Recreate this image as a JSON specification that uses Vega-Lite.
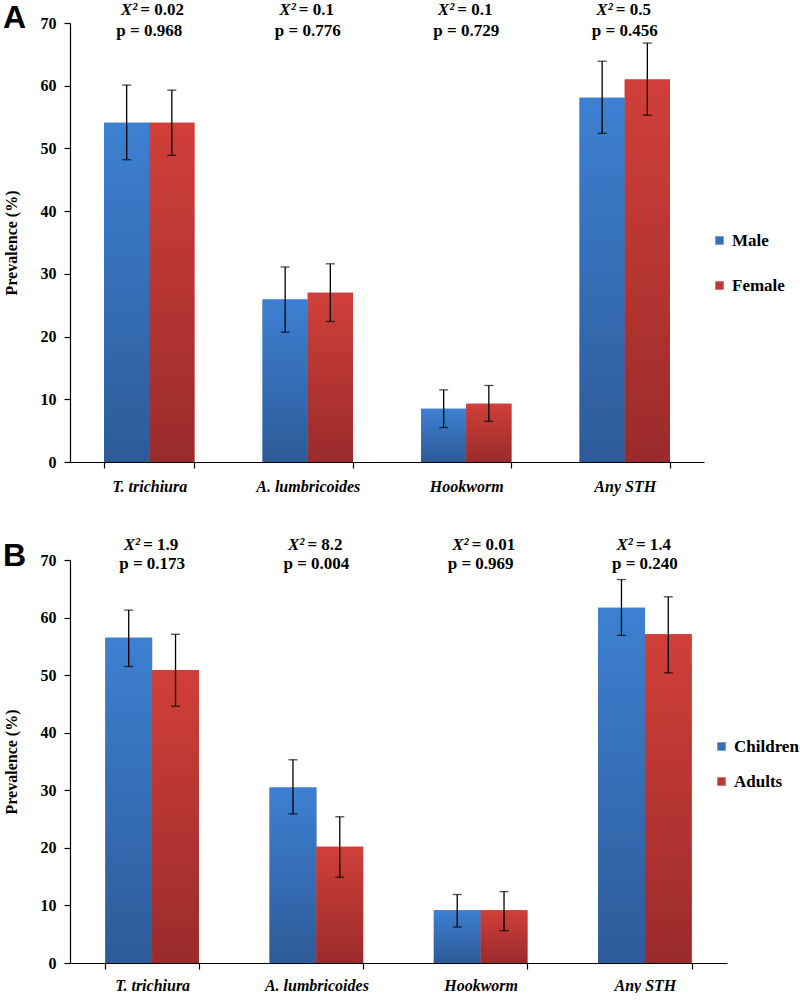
{
  "$schema": "https://vega.github.io/schema/vega-lite/v6.json",
  "background": "white",
  "padding": {"left": 3, "top": 0, "right": 0, "bottom": 0},
  "spacing": 42,
  "config": {
    "view": {"stroke": null},
    "font": "Liberation Serif",
    "axis": {
      "domainColor": "black", "domainWidth": 1.2, "tickColor": "black", "tickWidth": 1.2,
      "labelColor": "black", "labelFont": "Liberation Serif", "labelFontWeight": "bold", "labelFontSize": 16,
      "titleColor": "black", "titleFont": "Liberation Serif", "titleFontWeight": "bold", "titleFontSize": 16,
      "grid": false
    },
    "title": {"font": "Liberation Sans", "fontSize": 32, "fontWeight": "bold", "color": "black", "anchor": "start", "frame": "bounds"}
  },
  "resolve": {"scale": {"color": "independent", "xOffset": "independent", "y": "independent", "x": "independent"}, "legend": {"color": "independent"}},
  "datasets": {
    "a": [
      {"cat": "T. trichiura", "series": "Male", "value": 54.1, "lo": 48.2, "hi": 60.1},
      {"cat": "T. trichiura", "series": "Female", "value": 54.1, "lo": 48.9, "hi": 59.3},
      {"cat": "A. lumbricoides", "series": "Male", "value": 25.9, "lo": 20.7, "hi": 31.1},
      {"cat": "A. lumbricoides", "series": "Female", "value": 27.0, "lo": 22.4, "hi": 31.6},
      {"cat": "Hookworm", "series": "Male", "value": 8.5, "lo": 5.5, "hi": 11.5},
      {"cat": "Hookworm", "series": "Female", "value": 9.3, "lo": 6.5, "hi": 12.2},
      {"cat": "Any STH", "series": "Male", "value": 58.1, "lo": 52.4, "hi": 63.9},
      {"cat": "Any STH", "series": "Female", "value": 61.0, "lo": 55.3, "hi": 66.8}
    ],
    "b": [
      {"cat": "T. trichiura", "series": "Children", "value": 56.5, "lo": 51.5, "hi": 61.3},
      {"cat": "T. trichiura", "series": "Adults", "value": 50.9, "lo": 44.6, "hi": 57.1},
      {"cat": "A. lumbricoides", "series": "Children", "value": 30.5, "lo": 25.9, "hi": 35.3},
      {"cat": "A. lumbricoides", "series": "Adults", "value": 20.2, "lo": 14.9, "hi": 25.4},
      {"cat": "Hookworm", "series": "Children", "value": 9.15, "lo": 6.25, "hi": 11.9},
      {"cat": "Hookworm", "series": "Adults", "value": 9.15, "lo": 5.6, "hi": 12.4},
      {"cat": "Any STH", "series": "Children", "value": 61.7, "lo": 56.9, "hi": 66.6},
      {"cat": "Any STH", "series": "Adults", "value": 57.1, "lo": 50.4, "hi": 63.6}
    ],
    "ta": [
      {"cat": "T. trichiura", "x2sym": "X²", "chi": "= 0.02", "p": "p = 0.968"},
      {"cat": "A. lumbricoides", "x2sym": "X²", "chi": "= 0.1", "p": "p = 0.776"},
      {"cat": "Hookworm", "x2sym": "X²", "chi": "= 0.1", "p": "p = 0.729"},
      {"cat": "Any STH", "x2sym": "X²", "chi": "= 0.5", "p": "p = 0.456"}
    ],
    "tb": [
      {"cat": "T. trichiura", "x2sym": "X²", "chi": "= 1.9", "p": "p = 0.173"},
      {"cat": "A. lumbricoides", "x2sym": "X²", "chi": "= 8.2", "p": "p = 0.004"},
      {"cat": "Hookworm", "x2sym": "X²", "chi": "= 0.01", "p": "p = 0.969"},
      {"cat": "Any STH", "x2sym": "X²", "chi": "= 1.4", "p": "p = 0.240"}
    ]
  },
  "vconcat": [
    {
      "width": 634, "height": 439,
      "title": {"text": "A", "offset": -34},
      "encoding": {
        "x": {"field": "cat", "type": "nominal", "title": null,
          "scale": {"domain": ["T. trichiura", "A. lumbricoides", "Hookworm", "Any STH"], "paddingInner": 0.43, "paddingOuter": 0.215},
          "axis": {"labelAngle": 0, "labelFontStyle": "italic", "tickBand": "extent", "labelPadding": 10, "tickSize": 6}}
      },
      "layer": [
        {
          "data": {"name": "a"},
          "mark": {"type": "bar"},
          "encoding": {
            "xOffset": {"field": "series", "type": "nominal", "scale": {"domain": ["Male", "Female"]}},
            "y": {"field": "value", "type": "quantitative", "title": "Prevalence (%)",
              "scale": {"domain": [0, 70], "nice": false},
              "axis": {"values": [0, 10, 20, 30, 40, 50, 60, 70], "tickSize": 6, "labelPadding": 8, "titlePadding": 21}},
            "color": {"field": "series", "type": "nominal",
              "scale": {"domain": ["Male", "Female"], "range": ["#3670b8", "#bf3734"]},
              "legend": {"orient": "none", "legendX": 641, "legendY": 209, "title": null, "symbolType": "square", "symbolSize": 70,
                "labelFont": "Liberation Serif", "labelFontWeight": "bold", "labelFontSize": 17, "labelColor": "black", "rowPadding": 27, "symbolStrokeWidth": 0}}
          }
        },
        {
          "data": {"name": "a"},
          "transform": [{"filter": "datum.series === 'Male'"}],
          "mark": {"type": "bar", "color": {"gradient": "linear", "x1": 0, "y1": 0, "x2": 0, "y2": 1, "stops": [{"offset": 0, "color": "#3d80d2"}, {"offset": 1, "color": "#2d5b98"}]}},
          "encoding": {
            "xOffset": {"field": "series", "type": "nominal", "scale": {"domain": ["Male", "Female"]}},
            "y": {"field": "value", "type": "quantitative"}
          }
        },
        {
          "data": {"name": "a"},
          "transform": [{"filter": "datum.series === 'Female'"}],
          "mark": {"type": "bar", "color": {"gradient": "linear", "x1": 0, "y1": 0, "x2": 0, "y2": 1, "stops": [{"offset": 0, "color": "#d13f3a"}, {"offset": 1, "color": "#9a2b2b"}]}},
          "encoding": {
            "xOffset": {"field": "series", "type": "nominal", "scale": {"domain": ["Male", "Female"]}},
            "y": {"field": "value", "type": "quantitative"}
          }
        },
        {
          "data": {"name": "a"},
          "mark": {"type": "rule", "color": "black", "strokeWidth": 1.3},
          "encoding": {
            "xOffset": {"field": "series", "type": "nominal", "scale": {"domain": ["Male", "Female"]}},
            "y": {"field": "lo", "type": "quantitative"},
            "y2": {"field": "hi"}
          }
        },
        {
          "data": {"name": "a"},
          "mark": {"type": "tick", "color": "black", "size": 9, "thickness": 1.3, "orient": "horizontal"},
          "encoding": {
            "xOffset": {"field": "series", "type": "nominal", "scale": {"domain": ["Male", "Female"]}},
            "y": {"field": "lo", "type": "quantitative"}
          }
        },
        {
          "data": {"name": "a"},
          "mark": {"type": "tick", "color": "black", "size": 9, "thickness": 1.3, "orient": "horizontal"},
          "encoding": {
            "xOffset": {"field": "series", "type": "nominal", "scale": {"domain": ["Male", "Female"]}},
            "y": {"field": "hi", "type": "quantitative"}
          }
        },
        {
          "data": {"name": "ta"},
          "mark": {"type": "text", "font": "Liberation Serif", "fontWeight": "bold", "fontStyle": "italic", "fontSize": 17, "baseline": "middle", "align": "right", "dx": -12, "color": "black"},
          "encoding": {"y": {"datum": 72.1}, "text": {"field": "x2sym"}}
        },
        {
          "data": {"name": "ta"},
          "mark": {"type": "text", "font": "Liberation Serif", "fontWeight": "bold", "fontSize": 17, "baseline": "middle", "align": "left", "dx": -9, "color": "black"},
          "encoding": {"y": {"datum": 72.1}, "text": {"field": "chi"}}
        },
        {
          "data": {"name": "ta"},
          "mark": {"type": "text", "font": "Liberation Serif", "fontWeight": "bold", "fontSize": 17, "baseline": "middle", "color": "black"},
          "encoding": {"y": {"datum": 68.7}, "text": {"field": "p"}}
        }
      ]
    },
    {
      "width": 657, "height": 403,
      "title": {"text": "B", "offset": -37},
      "encoding": {
        "x": {"field": "cat", "type": "nominal", "title": null,
          "scale": {"domain": ["T. trichiura", "A. lumbricoides", "Hookworm", "Any STH"], "paddingInner": 0.43, "paddingOuter": 0.215},
          "axis": {"labelAngle": 0, "labelFontStyle": "italic", "tickBand": "extent", "labelPadding": 8, "tickSize": 6}}
      },
      "layer": [
        {
          "data": {"name": "b"},
          "mark": {"type": "bar"},
          "encoding": {
            "xOffset": {"field": "series", "type": "nominal", "scale": {"domain": ["Children", "Adults"]}},
            "y": {"field": "value", "type": "quantitative", "title": "Prevalence (%)",
              "scale": {"domain": [0, 70], "nice": false},
              "axis": {"values": [0, 10, 20, 30, 40, 50, 60, 70], "tickSize": 6, "labelPadding": 8, "titlePadding": 21}},
            "color": {"field": "series", "type": "nominal",
              "scale": {"domain": ["Children", "Adults"], "range": ["#3670b8", "#bf3734"]},
              "legend": {"orient": "none", "legendX": 643, "legendY": 178, "title": null, "symbolType": "square", "symbolSize": 70,
                "labelFont": "Liberation Serif", "labelFontWeight": "bold", "labelFontSize": 17, "labelColor": "black", "rowPadding": 17, "symbolStrokeWidth": 0}}
          }
        },
        {
          "data": {"name": "b"},
          "transform": [{"filter": "datum.series === 'Children'"}],
          "mark": {"type": "bar", "color": {"gradient": "linear", "x1": 0, "y1": 0, "x2": 0, "y2": 1, "stops": [{"offset": 0, "color": "#3d80d2"}, {"offset": 1, "color": "#2d5b98"}]}},
          "encoding": {
            "xOffset": {"field": "series", "type": "nominal", "scale": {"domain": ["Children", "Adults"]}},
            "y": {"field": "value", "type": "quantitative"}
          }
        },
        {
          "data": {"name": "b"},
          "transform": [{"filter": "datum.series === 'Adults'"}],
          "mark": {"type": "bar", "color": {"gradient": "linear", "x1": 0, "y1": 0, "x2": 0, "y2": 1, "stops": [{"offset": 0, "color": "#d13f3a"}, {"offset": 1, "color": "#9a2b2b"}]}},
          "encoding": {
            "xOffset": {"field": "series", "type": "nominal", "scale": {"domain": ["Children", "Adults"]}},
            "y": {"field": "value", "type": "quantitative"}
          }
        },
        {
          "data": {"name": "b"},
          "mark": {"type": "rule", "color": "black", "strokeWidth": 1.3},
          "encoding": {
            "xOffset": {"field": "series", "type": "nominal", "scale": {"domain": ["Children", "Adults"]}},
            "y": {"field": "lo", "type": "quantitative"},
            "y2": {"field": "hi"}
          }
        },
        {
          "data": {"name": "b"},
          "mark": {"type": "tick", "color": "black", "size": 9, "thickness": 1.3, "orient": "horizontal"},
          "encoding": {
            "xOffset": {"field": "series", "type": "nominal", "scale": {"domain": ["Children", "Adults"]}},
            "y": {"field": "lo", "type": "quantitative"}
          }
        },
        {
          "data": {"name": "b"},
          "mark": {"type": "tick", "color": "black", "size": 9, "thickness": 1.3, "orient": "horizontal"},
          "encoding": {
            "xOffset": {"field": "series", "type": "nominal", "scale": {"domain": ["Children", "Adults"]}},
            "y": {"field": "hi", "type": "quantitative"}
          }
        },
        {
          "data": {"name": "tb"},
          "mark": {"type": "text", "font": "Liberation Serif", "fontWeight": "bold", "fontStyle": "italic", "fontSize": 17, "baseline": "middle", "align": "right", "dx": -12, "color": "black"},
          "encoding": {"y": {"datum": 72.6}, "text": {"field": "x2sym"}}
        },
        {
          "data": {"name": "tb"},
          "mark": {"type": "text", "font": "Liberation Serif", "fontWeight": "bold", "fontSize": 17, "baseline": "middle", "align": "left", "dx": -9, "color": "black"},
          "encoding": {"y": {"datum": 72.6}, "text": {"field": "chi"}}
        },
        {
          "data": {"name": "tb"},
          "mark": {"type": "text", "font": "Liberation Serif", "fontWeight": "bold", "fontSize": 17, "baseline": "middle", "color": "black"},
          "encoding": {"y": {"datum": 69.3}, "text": {"field": "p"}}
        }
      ]
    }
  ]
}
